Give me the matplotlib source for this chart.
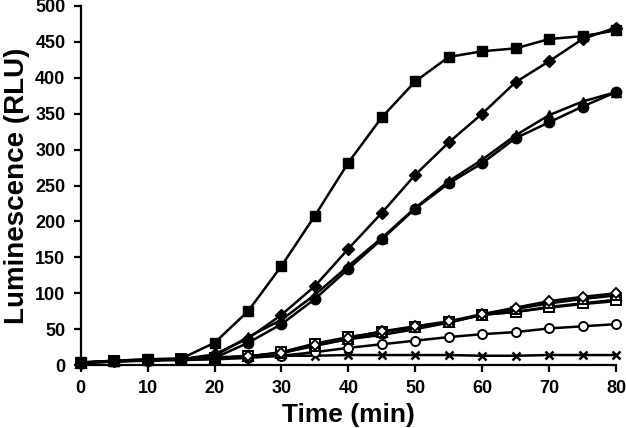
import matplotlib
matplotlib.use("Agg")
import matplotlib.pyplot as plt

plt.rcParams['font.family'] = ['Liberation Sans', 'DejaVu Sans']
plt.rcParams['font.weight'] = 'bold'

time_min = [0, 5, 10, 15, 20, 25, 30, 35, 40, 45, 50, 55, 60, 65, 70, 75, 80]

sq_fill = [4, 6, 8, 9, 31, 75, 138, 208, 282, 345, 395, 429, 437, 441, 454, 458, 466]
dia_fill = [3, 6, 7, 8, 15, 37, 70, 110, 162, 212, 265, 310, 350, 394, 423, 454, 470]
tri_fill = [3, 6, 7, 8, 13, 39, 63, 98, 138, 177, 219, 256, 286, 320, 348, 367, 380]
circ_fill = [3, 5, 7, 8, 10, 31, 57, 92, 134, 175, 218, 253, 281, 316, 338, 360, 380]
sq_fill_low = [3, 5, 7, 8, 9, 12, 17, 27, 36, 42, 50, 59, 70, 74, 80, 85, 89]
dia_open = [3, 6, 7, 8, 10, 12, 17, 28, 38, 47, 54, 61, 71, 80, 89, 95, 100]
tri_open = [3, 6, 7, 8, 10, 12, 17, 27, 37, 46, 53, 60, 70, 78, 86, 92, 97]
sq_open = [3, 6, 7, 8, 10, 12, 18, 30, 39, 46, 53, 60, 70, 74, 81, 86, 91]
circ_open = [3, 5, 6, 7, 8, 10, 13, 18, 24, 29, 34, 39, 43, 46, 51, 54, 57]
cross = [3, 6, 8, 9, 11, 12, 13, 13, 14, 14, 14, 14, 13, 13, 14, 14, 14]

fig = plt.figure(figsize=(6.26, 4.28), dpi=100)
ax = fig.add_axes([0.129, 0.147, 0.855, 0.839])

lw = 1.8
ax.plot(time_min, sq_fill_low, color='k', lw=lw, marker='s', ms=5, clip_on=False)
ax.plot(time_min, cross, color='k', lw=lw, marker='x', ms=6, mew=1.8, clip_on=False)
ax.plot(time_min, circ_open, color='k', lw=lw, marker='o', ms=6.5, mfc='white', mew=1.4, clip_on=False)
ax.plot(time_min, sq_open, color='k', lw=lw, marker='s', ms=6.5, mfc='white', mew=1.4, clip_on=False)
ax.plot(time_min, tri_open, color='k', lw=lw, marker='^', ms=6.5, mfc='white', mew=1.4, clip_on=False)
ax.plot(time_min, dia_open, color='k', lw=lw, marker='D', ms=5.5, mfc='white', mew=1.4, clip_on=False)
ax.plot(time_min, circ_fill, color='k', lw=lw, marker='o', ms=7.5, clip_on=False)
ax.plot(time_min, tri_fill, color='k', lw=lw, marker='^', ms=7.5, clip_on=False)
ax.plot(time_min, dia_fill, color='k', lw=lw, marker='D', ms=6.5, clip_on=False)
ax.plot(time_min, sq_fill, color='k', lw=lw, marker='s', ms=7.5, clip_on=False)

ax.set_xlim(0, 80)
ax.set_ylim(0, 500)
ax.set_xticks(range(0, 81, 10))
ax.set_yticks(range(0, 501, 50))
ax.spines['top'].set_visible(False)
ax.spines['right'].set_visible(False)
ax.spines['left'].set_linewidth(1.6)
ax.spines['bottom'].set_linewidth(1.6)
ax.tick_params(direction='out', length=5, width=1.6, labelsize=13, pad=6)
for lab in ax.get_xticklabels() + ax.get_yticklabels():
    lab.set_fontweight('bold')

ax.set_xlabel("Time (min)", fontsize=19, fontweight='bold', labelpad=4)
ax.set_ylabel("Luminescence (RLU)", fontsize=20, fontweight='bold', labelpad=4)

fig.savefig("out.png", dpi=100)
